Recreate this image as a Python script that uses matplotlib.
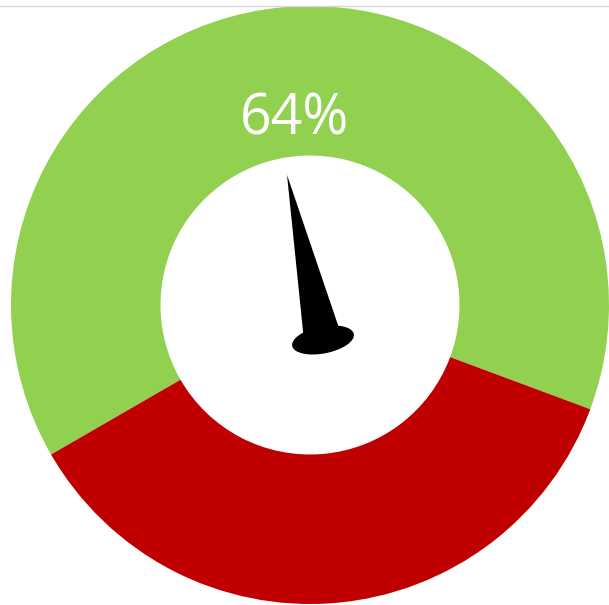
import numpy as np
import matplotlib
matplotlib.use("Agg")
import matplotlib.pyplot as plt
from matplotlib.patches import Ellipse, Polygon
from matplotlib.lines import Line2D

# Gauge data
segments = ["Score", "Rest"]
values = [64, 36]
colours = ["#92D050", "#C00000"]
label_text = "64%"
needle_angle_deg = 102.3   # direction of the needle, degrees from +x

fig = plt.figure(figsize=(6.09, 6.05), dpi=100)
ax = fig.add_axes([0, 0, 1, 1])

# donut: outer radius 1, hole at 0.5
wedges, _ = ax.pie(values, colors=colours, startangle=-20.4, counterclock=True,
                   radius=1.0, wedgeprops=dict(width=0.5, linewidth=0),
                   center=(0, 0))

# label on the green part, at the middle angle of the wedge
mid = np.deg2rad(-20.4 + values[0] / sum(values) * 360 / 2)
ax.text(0.62 * np.cos(mid), 0.62 * np.sin(mid), label_text, color="white",
        fontsize=40, family=["Open Sans", "DejaVu Sans"], ha="center", va="center")

# needle
pivot = np.array([0.0435, -0.117])
u = np.array([np.cos(np.deg2rad(needle_angle_deg)), np.sin(np.deg2rad(needle_angle_deg))])
perp = np.array([u[1], -u[0]])
base = pivot + 0.035 * u
tip = pivot + 0.565 * u
ax.add_patch(Polygon([base + 0.06 * perp, tip, base - 0.06 * perp], closed=True,
                     facecolor="black", edgecolor="none", zorder=5))
ax.add_patch(Ellipse(pivot, 0.21, 0.09, angle=11, facecolor="black",
                     edgecolor="none", zorder=6))

ax.set_xlim(-310 / 299, 299 / 299)
ax.set_ylim(-300 / 299, 305 / 299)
ax.set_aspect("equal")
ax.axis("off")

# thin grey line across the top
fig.add_artist(Line2D([0, 1], [1 - 6 / 605, 1 - 6 / 605], color="#d9d9d9", linewidth=1))

fig.savefig("out.png", dpi=100)
